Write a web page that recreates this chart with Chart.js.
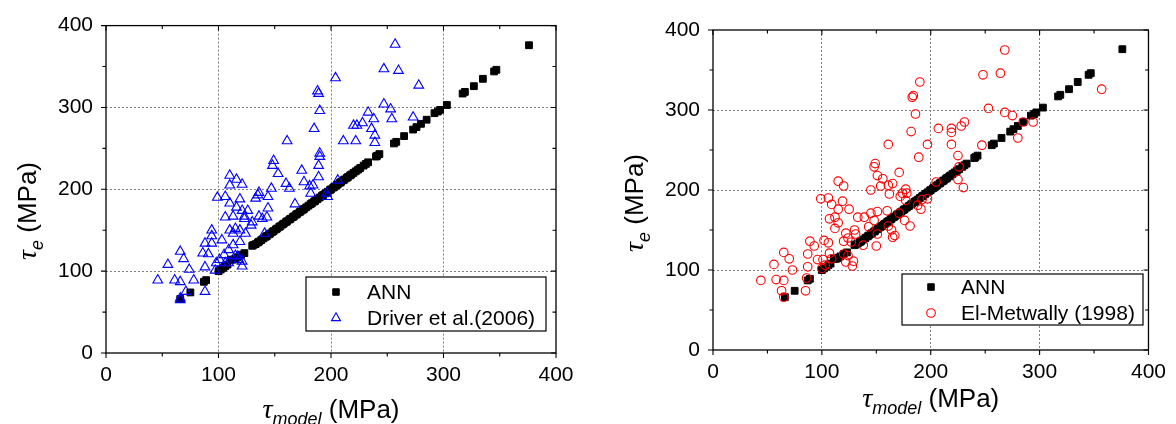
<!DOCTYPE html>
<html>
<head>
<meta charset="utf-8">
<script src="https://cdn.jsdelivr.net/npm/chart.js@4.4.1/dist/chart.umd.min.js"></script>
<style>
  html, body { margin: 0; padding: 0; background: #fff; }
  body { width: 1176px; height: 424px; position: relative; overflow: hidden; }
  .panel { position: absolute; top: 0; width: 588px; height: 424px; }
</style>
</head>
<body>
<div class="panel" style="left:0"><canvas id="left-chart" width="588" height="424"></canvas></div>
<div class="panel" style="left:588px"><canvas id="right-chart" width="588" height="424"></canvas></div>
<script>
// axis values
const axisMin = 0;
const axisMax = 400;
const majorStep = 100;
const minorStep = 50;

// ANN predictions (same in both panels)
const annModel = [66, 75, 87, 89, 100, 102, 104, 106, 108, 111, 113, 115, 117, 120, 123, 130, 131, 133, 135, 136,
    138, 140, 142, 143, 145, 146, 148, 149, 151, 152, 154, 155, 157, 158, 160, 161, 163, 164, 166, 167,
    169, 170, 172, 173, 175, 176, 178, 180, 182, 183, 185, 186, 188, 190, 192, 193, 195, 197, 199, 200,
    202, 203, 205, 206, 208, 209, 211, 212, 214, 215, 217, 218, 220, 222, 224, 226, 229, 231, 233, 240,
    241, 243, 256, 258, 265, 273, 276, 280, 285, 292, 295, 297, 303, 317, 319, 327, 335, 345, 347, 376];
const annExp = [66, 74, 87, 89, 100, 102, 104, 106, 108, 114, 114, 115, 117, 120, 122, 131, 132, 133, 135, 136,
    138, 140, 142, 143, 145, 146, 148, 149, 151, 152, 154, 155, 157, 158, 160, 161, 163, 164, 166, 167,
    169, 170, 172, 173, 175, 176, 178, 180, 182, 183, 185, 186, 188, 190, 192, 193, 195, 197, 199, 200,
    202, 203, 205, 206, 208, 209, 211, 212, 214, 215, 217, 218, 220, 222, 224, 226, 229, 231, 233, 240,
    241, 243, 256, 258, 265, 273, 276, 280, 285, 293, 295, 297, 303, 317, 319, 326, 335, 344, 346, 376];

// Driver et al. (2006)
const driverModel = [257, 247, 260, 204, 278, 188, 189, 190, 185, 247, 253, 254, 273, 233, 238, 228, 220, 223, 236, 239,
    239, 211, 222, 161, 190, 190, 189, 189, 149, 148, 153, 174, 176, 160, 163, 147, 181, 184, 182, 196,
    197, 206, 168, 136, 135, 133, 144, 144, 143, 141, 130, 129, 110, 116, 110, 121, 99, 106, 110, 119,
    116, 113, 106, 121, 123, 126, 115, 110, 119, 113, 124, 94, 94, 94, 88, 86, 103, 109, 113, 119,
    105, 115, 98, 101, 106, 109, 121, 121, 97, 117, 118, 66, 69, 55, 74, 46, 61, 66, 78, 88,
    91, 71, 88, 66, 66, 123, 139, 136];
const driverExp = [377, 347, 345, 336, 327, 320, 317, 296, 274, 304, 298, 286, 288, 294, 286, 281, 278, 278, 274, 266,
    257, 259, 259, 259, 244, 240, 229, 215, 235, 229, 219, 223, 209, 207, 201, 201, 204, 205, 195, 195,
    191, 211, 182, 196, 193, 189, 191, 177, 166, 146, 160, 156, 217, 212, 205, 206, 190, 191, 183, 188,
    178, 167, 166, 174, 167, 174, 152, 150, 150, 146, 146, 150, 143, 134, 134, 122, 138, 126, 132, 136,
    120, 119, 110, 114, 110, 110, 112, 106, 101, 118, 114, 124, 115, 108, 102, 89, 89, 87, 89, 105,
    121, 75, 75, 67, 65, 164, 164, 167];

// El-Metwally (1998)
const metwallyModel = [268, 248, 264, 190, 184, 183, 186, 182, 357, 253, 268, 275, 231, 228, 207, 219, 219, 285, 294, 280,
    161, 197, 219, 247, 189, 225, 149, 148, 171, 151, 156, 226, 225, 230, 205, 115, 120, 145, 154, 161,
    165, 162, 99, 106, 109, 119, 115, 125, 107, 112, 115, 112, 172, 174, 177, 178, 177, 192, 197, 188,
    191, 181, 176, 171, 133, 139, 145, 148, 143, 151, 160, 161, 164, 165, 167, 151, 150, 138, 130, 131,
    122, 124, 120, 127, 102, 106, 107, 109, 101, 96, 100, 103, 120, 124, 122, 129, 128, 89, 93, 87,
    87, 86, 85, 65, 70, 56, 73, 44, 58, 65, 63, 65];
const metwallyExp = [375, 344, 346, 335, 318, 316, 295, 273, 326, 302, 297, 293, 285, 280, 277, 277, 272, 285, 285, 265,
    257, 257, 257, 256, 241, 243, 233, 229, 222, 218, 214, 229, 213, 203, 210, 211, 205, 200, 205, 206,
    208, 195, 189, 190, 182, 186, 176, 176, 164, 166, 159, 152, 192, 196, 201, 196, 187, 188, 189, 181,
    176, 155, 162, 171, 166, 166, 171, 162, 154, 173, 174, 155, 150, 141, 143, 145, 130, 131, 150, 145,
    146, 140, 136, 135, 137, 134, 121, 114, 113, 113, 102, 106, 120, 118, 110, 111, 105, 136, 130, 120,
    104, 90, 74, 122, 114, 107, 100, 87, 88, 87, 74, 66];

const SANS = '"Liberation Sans", Arial, sans-serif';
const SERIF = '"Liberation Serif", "Times New Roman", serif';

function toPoints(xs, ys) {
    return xs.map((x, i) => ({ x: x, y: ys[i] }));
}

// draw a run of text pieces with different fonts / baseline shifts
function drawRichText(ctx, parts, x, y) {
    let total = 0;
    parts.forEach(p => {
        ctx.font = p.font;
        p.w = ctx.measureText(p.text).width;
        total += p.w;
    });
    let cx = x - total / 2;
    ctx.textAlign = 'left';
    ctx.textBaseline = 'alphabetic';
    parts.forEach(p => {
        ctx.font = p.font;
        ctx.fillText(p.text, cx, y + (p.dy || 0));
        cx += p.w;
    });
}

function drawMarker(ctx, ds, x, y, radius) {
    ctx.save();
    ctx.strokeStyle = ds.borderColor;
    ctx.fillStyle = ds.backgroundColor;
    ctx.lineWidth = ds.borderWidth;
    Chart.helpers.drawPoint(ctx, {
        pointStyle: ds.pointStyle,
        radius: radius,
        rotation: 0,
        borderWidth: ds.borderWidth
    }, x, y);
    ctx.restore();
}

// frame, inner/outer ticks, axis titles and the boxed legend
const framePlugin = {
    id: 'frame',
    afterDraw(chart, args, opts) {
        const ctx = chart.ctx;
        const area = chart.chartArea;
        const xs = chart.scales.x;
        const ys = chart.scales.y;
        ctx.save();

        ctx.strokeStyle = '#000';
        ctx.lineWidth = 1.3;
        ctx.strokeRect(area.left, area.top, area.right - area.left, area.bottom - area.top);

        ctx.lineWidth = 1.1;
        ctx.beginPath();
        for (let v = axisMin; v <= axisMax; v += minorStep) {
            const len = v % majorStep === 0 ? 5 : 3.5;
            const px = xs.getPixelForValue(v);
            ctx.moveTo(px, area.bottom); ctx.lineTo(px, area.bottom + len);
            ctx.moveTo(px, area.top); ctx.lineTo(px, area.top + len);
            const py = ys.getPixelForValue(v);
            ctx.moveTo(area.left, py); ctx.lineTo(area.left - len, py);
            ctx.moveTo(area.right, py); ctx.lineTo(area.right - len, py);
        }
        ctx.stroke();

        // axis titles
        ctx.fillStyle = '#000';
        drawRichText(ctx, [
            { text: '\u03c4', font: 'italic 28px ' + SERIF },
            { text: 'model', font: 'italic 18px ' + SANS, dy: 7 },
            { text: ' (MPa)', font: '26px ' + SANS }
        ], (area.left + area.right) / 2, opts.xTitleBaseline);

        ctx.save();
        ctx.translate(opts.yTitleBaseline, opts.yTitleCenter);
        ctx.rotate(-Math.PI / 2);
        drawRichText(ctx, [
            { text: '\u03c4', font: 'italic 28px ' + SERIF },
            { text: 'e', font: 'italic 18px ' + SANS, dy: 7 },
            { text: ' (MPa)', font: '26px ' + SANS }
        ], 0, 0);
        ctx.restore();

        // legend
        const b = opts.legendBox;
        ctx.fillStyle = '#fff';
        ctx.fillRect(b.left, b.top, b.right - b.left, b.bottom - b.top);
        ctx.strokeStyle = '#000';
        ctx.lineWidth = 1.2;
        ctx.strokeRect(b.left, b.top, b.right - b.left, b.bottom - b.top);
        chart.data.datasets.forEach((ds, i) => {
            const ry = opts.legendRows[i];
            drawMarker(ctx, ds, opts.legendMarkerX, ry, opts.legendRadius[i]);
            ctx.fillStyle = '#000';
            ctx.font = '21px ' + SANS;
            ctx.textAlign = 'left';
            ctx.textBaseline = 'middle';
            ctx.fillText(ds.label, opts.legendTextX, ry + 1);
        });

        ctx.restore();
    }
};

function gridColor(c) {
    const v = c.tick ? c.tick.value : 0;
    return (v > axisMin && v < axisMax) ? '#808080' : 'rgba(0,0,0,0)';
}

function makeScale(fitSize, isX, pad) {
    return {
        type: 'linear',
        min: axisMin,
        max: axisMax,
        ticks: {
            stepSize: majorStep,
            color: '#000',
            font: { family: SANS, size: 21 },
            padding: pad,
            maxRotation: 0
        },
        grid: { color: gridColor, drawTicks: false, lineWidth: 1 },
        border: { display: false, dash: [2, 2] },
        afterFit(scale) {
            if (isX) scale.height = fitSize; else scale.width = fitSize;
        }
    };
}

function createPanel(canvasId, otherLabel, otherModel, otherExp, otherStyle, layout) {
    const ctx = document.getElementById(canvasId);
    return new Chart(ctx, {
        type: 'scatter',
        data: {
            datasets: [{
                label: 'ANN',
                data: toPoints(annModel, annExp),
                pointStyle: 'rect',
                pointRadius: 4.8,
                pointHoverRadius: 4.8,
                backgroundColor: '#000',
                borderColor: '#000',
                borderWidth: 1,
                order: 1
            }, {
                label: otherLabel,
                data: toPoints(otherModel, otherExp),
                pointStyle: otherStyle.pointStyle,
                pointRadius: otherStyle.radius,
                pointHoverRadius: otherStyle.radius,
                backgroundColor: 'rgba(0,0,0,0)',
                borderColor: otherStyle.color,
                borderWidth: 1.1,
                order: 0
            }]
        },
        options: {
            responsive: false,
            animation: false,
            layout: { padding: { left: 0, top: layout.top, right: layout.right, bottom: 0 } },
            scales: {
                x: makeScale(layout.xAxisHeight, true, 10),
                y: makeScale(layout.yAxisWidth, false, 13)
            },
            plugins: {
                legend: { display: false },
                tooltip: { enabled: false },
                frame: layout.frame
            }
        },
        plugins: [framePlugin]
    });
}

createPanel('left-chart', 'Driver et al.(2006)', driverModel, driverExp,
    { pointStyle: 'triangle', radius: 5.6, color: '#0000ff' },
    {
        top: 25, right: 32, xAxisHeight: 71, yAxisWidth: 106,
        frame: {
            xTitleBaseline: 418,
            yTitleBaseline: 36,
            yTitleCenter: 211,
            legendBox: { left: 306, top: 277, right: 546, bottom: 331 },
            legendMarkerX: 336,
            legendTextX: 367,
            legendRows: [292, 318],
            legendRadius: [4.6, 5.2]
        }
    });

createPanel('right-chart', 'El-Metwally (1998)', metwallyModel, metwallyExp,
    { pointStyle: 'circle', radius: 4.3, color: '#ff0000' },
    {
        top: 30, right: 26, xAxisHeight: 74, yAxisWidth: 125,
        frame: {
            xTitleBaseline: 407,
            yTitleBaseline: 55,
            yTitleCenter: 203,
            legendBox: { left: 314, top: 274, right: 555, bottom: 325 },
            legendMarkerX: 343,
            legendTextX: 373,
            legendRows: [287, 313],
            legendRadius: [4.6, 4.3]
        }
    });
</script>
</body>
</html>
